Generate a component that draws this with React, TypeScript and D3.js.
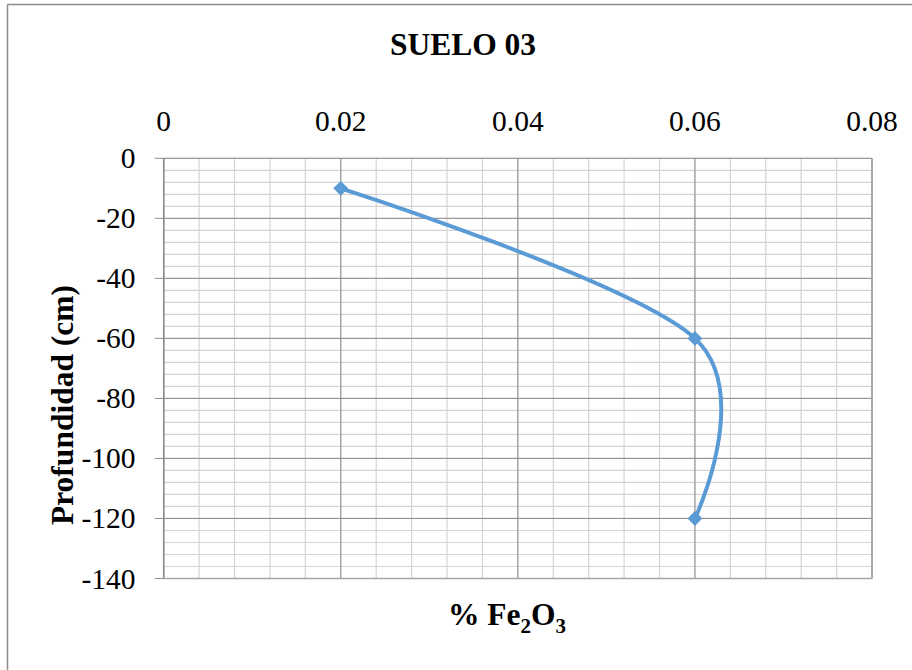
import React from "react";
import * as d3 from "d3";

const title = "SUELO 03";
const xTicks = [0, 0.02, 0.04, 0.06, 0.08];
const yTicks = [0, -20, -40, -60, -80, -100, -120, -140];
const fe2o3 = [0.02, 0.06, 0.06];
const depth = [-10, -60, -120];

const W = 912;
const H = 670;
const plot = { left: 163.7, right: 872, top: 158.3, bottom: 578.5 };
const serif = "'Liberation Serif', 'Times New Roman', serif";
const blue = "#5B9BD5";

export default function App() {
  const x = d3.scaleLinear().domain([0, 0.08]).range([plot.left, plot.right]);
  const y = d3.scaleLinear().domain([0, -140]).range([plot.top, plot.bottom]);

  const xMinor = d3.range(0, 0.0801, 0.004);
  const yMinor = d3.range(0, -140.01, -4);

  const pts: [number, number][] = fe2o3.map((v, i) => [x(v), y(depth[i])]);
  const line = d3.line().curve(d3.curveCardinal.tension(0))(pts) || "";
  const diamond = d3.symbol().type(d3.symbolDiamond2).size(140)() || "";

  return (
    <svg width={W} height={H} style={{ position: "absolute", left: 0, top: 0, background: "#fff" }}>
      {/* chart frame */}
      <line x1={7.5} x2={W} y1={4.5} y2={4.5} stroke="#8c8c8c" strokeWidth={1.5} />
      <line x1={7.5} x2={7.5} y1={4.5} y2={H} stroke="#8c8c8c" strokeWidth={1.5} />

      <text x={463} y={55} textAnchor="middle" fontFamily={serif} fontWeight="bold" fontSize={31.5}>
        {title}
      </text>

      {/* minor grid */}
      {xMinor.map((v, i) => (
        <line key={"xm" + i} x1={x(v)} x2={x(v)} y1={plot.top} y2={plot.bottom} stroke="#d4d4d4" strokeWidth={1.2} />
      ))}
      {yMinor.map((v, i) => (
        <line key={"ym" + i} x1={plot.left} x2={plot.right} y1={y(v)} y2={y(v)} stroke="#d4d4d4" strokeWidth={1.2} />
      ))}
      {/* major grid */}
      {xTicks.map((v) => (
        <line key={"xM" + v} x1={x(v)} x2={x(v)} y1={plot.top} y2={plot.bottom} stroke="#8e8e8e" strokeWidth={1} />
      ))}
      {yTicks.map((v) => (
        <line key={"yM" + v} x1={plot.left - 9} x2={plot.right} y1={y(v)} y2={y(v)} stroke="#8e8e8e" strokeWidth={1} />
      ))}
      <line x1={plot.left} x2={plot.left} y1={plot.top} y2={plot.bottom} stroke="#8a8a8a" strokeWidth={1.5} />
      <line x1={plot.left} x2={plot.right} y1={plot.bottom} y2={plot.bottom} stroke="#a6a6a6" strokeWidth={1.5} />
      <line x1={plot.right} x2={plot.right} y1={plot.top} y2={plot.bottom} stroke="#a6a6a6" strokeWidth={1.5} />

      {/* top x-axis labels */}
      {xTicks.map((v) => (
        <text key={"xl" + v} x={x(v)} y={131} textAnchor="middle" fontFamily={serif} fontSize={29.5}>
          {v === 0 ? "0" : d3.format(".2f")(v)}
        </text>
      ))}
      {/* y-axis labels */}
      {yTicks.map((v) => (
        <text key={"yl" + v} x={135.5} y={y(v) + 10} textAnchor="end" fontFamily={serif} fontSize={29.5}>
          {v === 0 ? "0" : "-" + Math.abs(v)}
        </text>
      ))}

      <text
        transform={`translate(73,405) rotate(-90)`}
        textAnchor="middle"
        fontFamily={serif}
        fontWeight="bold"
        fontSize={31.5}
      >
        Profundidad (cm)
      </text>

      <text x={507} y={625} textAnchor="middle" fontFamily={serif} fontWeight="bold" fontSize={31.5}>
        % Fe
        <tspan fontSize={21} dy={8}>2</tspan>
        <tspan dy={-8}>O</tspan>
        <tspan fontSize={21} dy={8}>3</tspan>
      </text>

      {/* data */}
      <path d={line} fill="none" stroke={blue} strokeWidth={4} strokeLinecap="round" />
      {pts.map((p, i) => (
        <path key={"m" + i} d={diamond} transform={`translate(${p[0]},${p[1]})`} fill={blue} />
      ))}
    </svg>
  );
}
